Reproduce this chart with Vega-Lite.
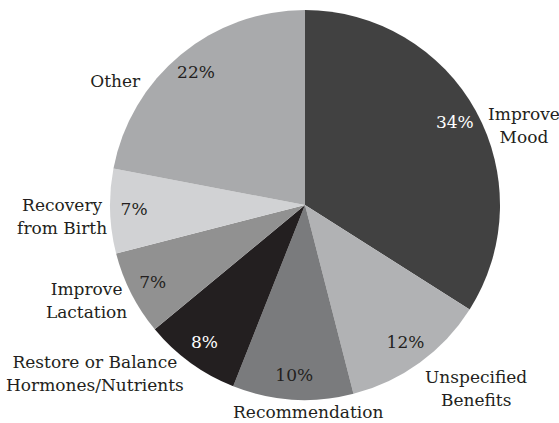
{
  "$schema": "https://vega.github.io/schema/vega-lite/v6.json",
  "width": 500,
  "height": 410,
  "autosize": {"type": "none"},
  "padding": {"left": 55, "top": 0, "right": 4, "bottom": 13},
  "background": "white",
  "config": {"view": {"stroke": null}, "font": "DejaVu Serif"},
  "data": {"values": [
    {"idx": 1, "cat": "Improve Mood", "label": "Improve\nMood", "share": 0.34},
    {"idx": 2, "cat": "Unspecified Benefits", "label": "Unspecified\nBenefits", "share": 0.12},
    {"idx": 3, "cat": "Recommendation", "label": "Recommendation", "share": 0.10},
    {"idx": 4, "cat": "Restore or Balance Hormones/Nutrients", "label": "Restore or Balance\nHormones/Nutrients", "share": 0.08},
    {"idx": 5, "cat": "Improve Lactation", "label": "Improve\nLactation", "share": 0.07},
    {"idx": 6, "cat": "Recovery from Birth", "label": "Recovery\nfrom Birth", "share": 0.07},
    {"idx": 7, "cat": "Other", "label": "Other", "share": 0.22}
  ]},
  "encoding": {
    "theta": {"field": "share", "type": "quantitative", "stack": true},
    "order": {"field": "idx", "type": "ordinal"}
  },
  "layer": [
    {
      "mark": {"type": "arc", "outerRadius": 195},
      "encoding": {
        "color": {"field": "cat", "type": "nominal", "legend": null,
          "scale": {"domain": ["Improve Mood", "Unspecified Benefits", "Recommendation", "Restore or Balance Hormones/Nutrients", "Improve Lactation", "Recovery from Birth", "Other"],
                    "range": ["#414141", "#b1b2b4", "#7a7b7d", "#231f20", "#919191", "#d1d2d4", "#a9aaac"]}}
      }
    },
    {
      "mark": {"type": "text", "font": "DejaVu Serif", "fontSize": 17, "radius": 171, "align": "center", "baseline": "middle"},
      "encoding": {
        "text": {"field": "share", "type": "quantitative", "format": ".0%"},
        "color": {"condition": {"test": "datum.idx === 1 || datum.idx === 4", "value": "#ffffff"}, "value": "#231f20"}
      }
    },
    {
      "mark": {"type": "text", "font": "DejaVu Serif", "fontSize": 17, "lineHeight": 23, "lineBreak": "\n", "radius": 235, "align": "center", "baseline": "middle", "dx": 13, "dy": 23, "color": "#231f20"},
      "encoding": {"text": {"condition": {"test": "datum.idx === 1", "field": "label"}, "value": ""}}
    },
    {
      "mark": {"type": "text", "font": "DejaVu Serif", "fontSize": 17, "lineHeight": 23, "lineBreak": "\n", "radius": 235, "align": "center", "baseline": "middle", "dx": 33, "dy": -17, "color": "#231f20"},
      "encoding": {"text": {"condition": {"test": "datum.idx === 2", "field": "label"}, "value": ""}}
    },
    {
      "mark": {"type": "text", "font": "DejaVu Serif", "fontSize": 17, "lineHeight": 23, "lineBreak": "\n", "radius": 235, "align": "center", "baseline": "middle", "dx": 18, "dy": -27, "color": "#231f20"},
      "encoding": {"text": {"condition": {"test": "datum.idx === 3", "field": "label"}, "value": ""}}
    },
    {
      "mark": {"type": "text", "font": "DejaVu Serif", "fontSize": 17, "lineHeight": 23, "lineBreak": "\n", "radius": 235, "align": "center", "baseline": "middle", "dx": -72, "dy": -32, "color": "#231f20"},
      "encoding": {"text": {"condition": {"test": "datum.idx === 4", "field": "label"}, "value": ""}}
    },
    {
      "mark": {"type": "text", "font": "DejaVu Serif", "fontSize": 17, "lineHeight": 23, "lineBreak": "\n", "radius": 235, "align": "center", "baseline": "middle", "dx": -9, "dy": -22, "color": "#231f20"},
      "encoding": {"text": {"condition": {"test": "datum.idx === 5", "field": "label"}, "value": ""}}
    },
    {
      "mark": {"type": "text", "font": "DejaVu Serif", "fontSize": 17, "lineHeight": 23, "lineBreak": "\n", "radius": 235, "align": "center", "baseline": "middle", "dx": -8, "dy": -6, "color": "#231f20"},
      "encoding": {"text": {"condition": {"test": "datum.idx === 6", "field": "label"}, "value": ""}}
    },
    {
      "mark": {"type": "text", "font": "DejaVu Serif", "fontSize": 17, "lineHeight": 23, "lineBreak": "\n", "radius": 235, "align": "center", "baseline": "middle", "dx": -40, "dy": 58, "color": "#231f20"},
      "encoding": {"text": {"condition": {"test": "datum.idx === 7", "field": "label"}, "value": ""}}
    }
  ]
}
